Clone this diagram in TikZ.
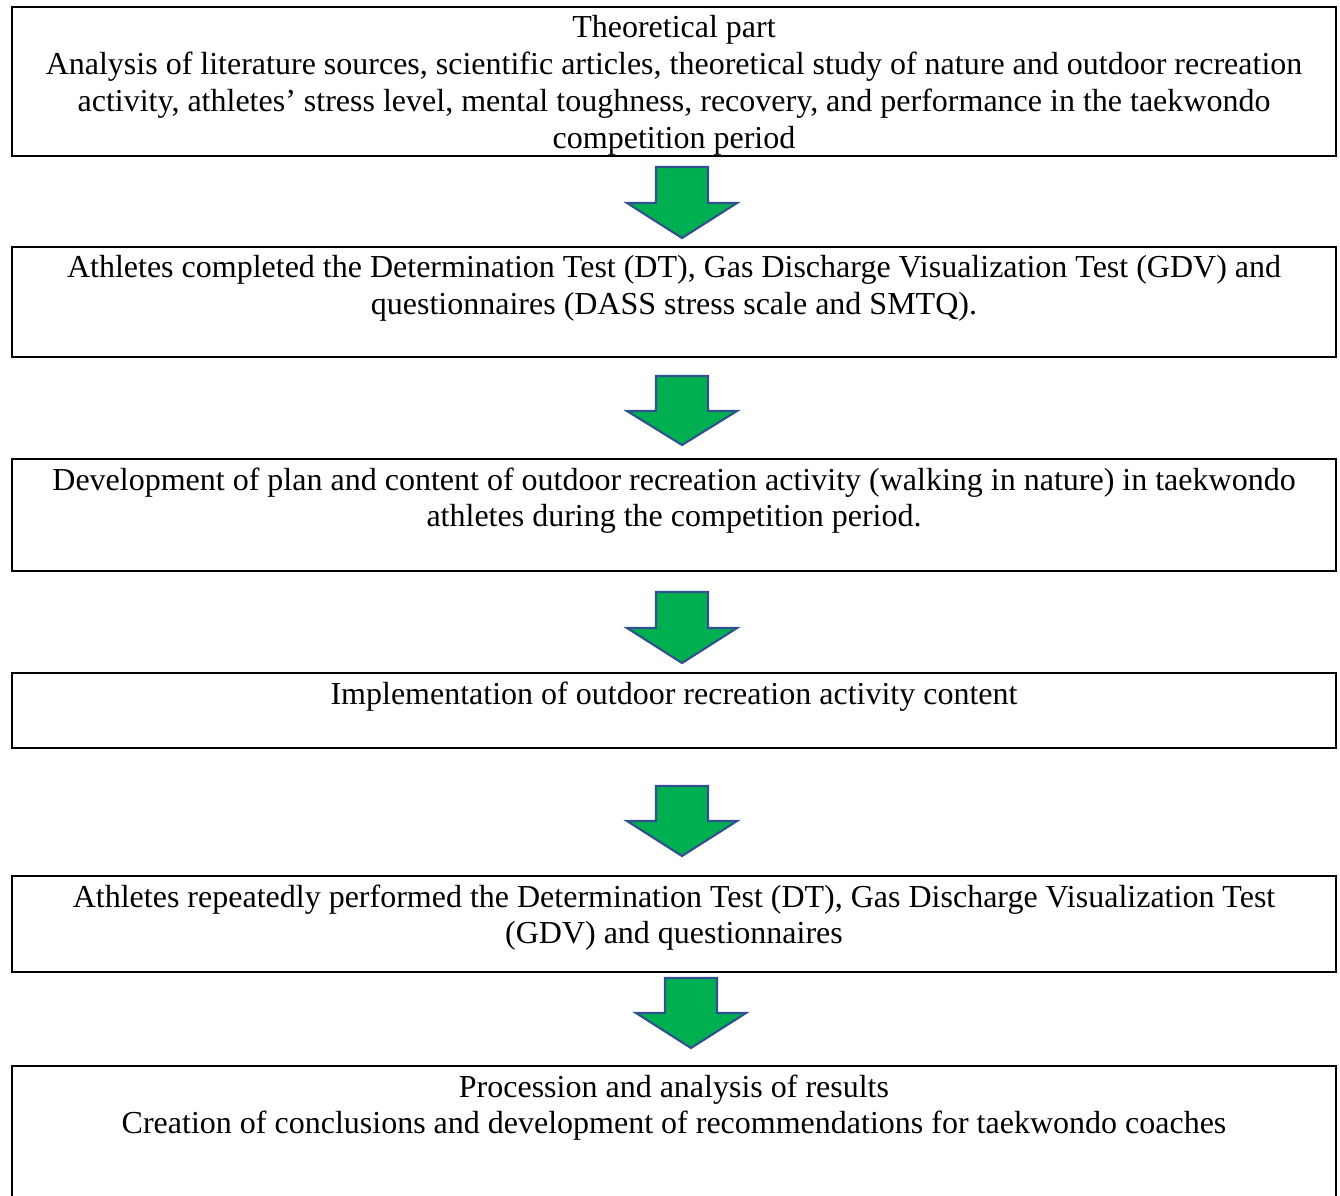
\documentclass[tikz,border=0pt]{standalone}
\usepackage{fontspec}
\setmainfont{Liberation Serif}
\definecolor{arrowgreen}{HTML}{00B050}
\definecolor{arrowblue}{HTML}{2F528F}
\newcommand{\pxu}{0.375pt}

\begin{document}
\begin{tikzpicture}[x=\pxu, y=\pxu,
	box/.style={draw, line width=1.1pt, inner sep=0pt, minimum width=1324*\pxu},
	txt/.style={align=center, inner sep=0pt, anchor=north, font=\fontsize{12}{13.8}\selectfont},
	downarrow/.style={draw=arrowblue, fill=arrowgreen, line width=0.8pt, line join=miter}]
	\useasboundingbox (0,0) rectangle (1340,-1195);
	\clip (0,0) rectangle (1340,-1195);

	% Boxes
	\node[box, minimum height=149*\pxu] (theory) at (674,-81.5) {};
	\node[box, minimum height=110*\pxu] (pretest) at (674,-302) {};
	\node[box, minimum height=112*\pxu] (plan) at (674,-515) {};
	\node[box, minimum height=75*\pxu] (implement) at (674,-710.5) {};
	\node[box, minimum height=96*\pxu] (posttest) at (674,-924) {};
	\node[box, minimum height=140*\pxu] (results) at (674,-1136) {};

	% Texts
	\node[txt] (theorytext) at (674,-15) {Theoretical part\\
		Analysis of literature sources, scientific articles, theoretical study of nature and outdoor recreation\\
		activity, athletes’ stress level, mental toughness, recovery, and performance  in the taekwondo\\
		competition period};
	\node[txt] (pretesttext) at (674,-255) {Athletes completed the Determination Test (DT), Gas Discharge Visualization Test (GDV) and\\
		questionnaires (DASS stress scale and SMTQ).};
	\node[txt] (plantext) at (674,-467) {Development of plan and content of outdoor recreation activity (walking in nature) in taekwondo\\
		athletes during the competition period.};
	\node[txt] (implementtext) at (674,-681) {Implementation of outdoor recreation activity content};
	\node[txt] (posttesttext) at (674,-884) {Athletes repeatedly performed the Determination Test (DT), Gas Discharge Visualization Test\\
		(GDV) and questionnaires};
	\node[txt] (resultstext) at (674,-1074) {Procession and analysis of results\\
		Creation of conclusions and development of recommendations for taekwondo coaches};

	% Arrows
	\draw[downarrow, shift={(682,-167)}] (-26,0) -- (26,0) -- (26,-36) -- (55,-36) -- (0,-71) -- (-55,-36) -- (-26,-36) -- cycle;
	\draw[downarrow, shift={(682,-376)}] (-26,0) -- (26,0) -- (26,-35) -- (55,-35) -- (0,-69) -- (-55,-35) -- (-26,-35) -- cycle;
	\draw[downarrow, shift={(682,-592)}] (-26,0) -- (26,0) -- (26,-36) -- (55,-36) -- (0,-71) -- (-55,-36) -- (-26,-36) -- cycle;
	\draw[downarrow, shift={(682,-786)}] (-26,0) -- (26,0) -- (26,-35) -- (55,-35) -- (0,-70) -- (-55,-35) -- (-26,-35) -- cycle;
	\draw[downarrow, shift={(691,-978)}] (-26,0) -- (26,0) -- (26,-35) -- (55,-35) -- (0,-70) -- (-55,-35) -- (-26,-35) -- cycle;
\end{tikzpicture}
\end{document}
